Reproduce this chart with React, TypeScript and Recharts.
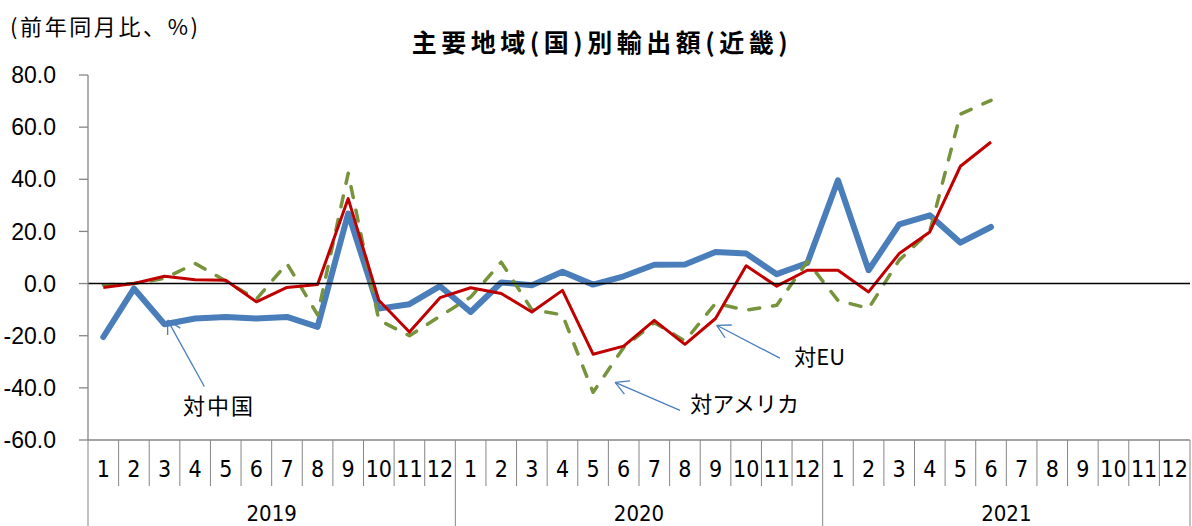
import React from 'react';
import { LineChart, Line, XAxis, YAxis, ReferenceLine, ReferenceDot } from 'recharts';

// ---------- data ----------
const YEARS = ['2019', '2020', '2021'];
const MONTHS = ['1', '2', '3', '4', '5', '6', '7', '8', '9', '10', '11', '12'];
const Y_TICKS = [-60, -40, -20, 0, 20, 40, 60, 80];

// 対中国
const CHINA = [
  -20.5, -1.9, -15.6, -13.4, -12.8, -13.4, -12.8, -16.6, 26.9, -9.6, -7.9, -1.0,
  -10.9, 0.4, -0.6, 4.5, -0.4, 2.8, 7.2, 7.3, 12.1, 11.5, 3.6, 7.9,
  39.6, 5.1, 22.7, 26.2, 15.7, 21.7,
];
// 対EU
const EU = [
  -1.5, 0.0, 2.8, 1.5, 1.3, -7.0, -1.5, -0.4, 32.6, -6.4, -18.6, -5.4,
  -1.6, -3.8, -10.9, -2.6, -27.1, -24.0, -14.1, -23.3, -13.4, 6.8, -1.0, 5.1,
  5.1, -3.2, 11.5, 19.8, 45.0, 54.3,
];
// 対アメリカ
const USA = [
  -0.5, 0.0, 2.0, 7.7, 1.0, -6.0, 7.7, -12.0, 42.3, -14.0, -20.0, -12.5,
  -5.2, 8.2, -10.0, -12.0, -41.7, -24.5, -15.0, -22.0, -7.6, -10.2, -8.3, 8.5,
  -6.5, -9.5, 9.0, 20.0, 65.0, 70.3,
];

// annotations: arrow head -> tail (in data coordinates), label position
const NOTES = [
  { text: '対中国', head: [2.1, -14.0], tail: [3.3, -39.5], label: [3.78, -47.0] },
  { text: '対アメリカ', head: [16.72, -37.9], tail: [18.84, -48.6], label: [20.95, -46.2] },
  { text: '対EU', head: [20.04, -16.0], tail: [22.1, -28.6], label: [23.4, -28.3] },
];

// ---------- layout ----------
const W = 1192;
const H = 526;
const ML = 88;
const MR = 2;
const MT = 75;
const XH = 86;
const N = YEARS.length * MONTHS.length;
const HALF = (W - ML - MR) / N / 2;

const CJK = "'Noto Sans CJK JP', 'Noto Sans CJK SC', sans-serif";
const NUM = "'Liberation Sans', Arial, sans-serif";
const NARROW = "'Liberation Sans Narrow', 'Arial Narrow', 'DejaVu Sans Condensed', sans-serif";
const AXIS = '#868686';

const data = Array.from({ length: N }, (_, i) => ({
  i,
  m: MONTHS[i % 12],
  china: i < CHINA.length ? CHINA[i] : null,
  eu: i < EU.length ? EU[i] : null,
  usa: i < USA.length ? USA[i] : null,
}));

const MonthTick = (props: any) => {
  const { x, y, payload } = props;
  const i = payload.value as number;
  const m = i % 12;
  const items: React.ReactNode[] = [];
  items.push(
    <line key="d" x1={x - HALF} x2={x - HALF} y1={y} y2={y + (m === 0 ? XH : 46)} stroke={AXIS} strokeWidth={1} />
  );
  if (i === N - 1) {
    items.push(<line key="r" x1={x + HALF} x2={x + HALF} y1={y} y2={y + XH} stroke={AXIS} strokeWidth={1} />);
  }
  items.push(
    <text key="t" x={x} y={y + 37} textAnchor="middle" fontFamily={NARROW} fontSize={23} fill="#000">
      {MONTHS[m]}
    </text>
  );
  if (m === 5) {
    items.push(
      <text key="y" x={x + HALF} y={y + 81} textAnchor="middle" fontFamily={NARROW} fontSize={22} fill="#000">
        {YEARS[Math.floor(i / 12)]}
      </text>
    );
  }
  return <g>{items}</g>;
};

const ArrowShape = (props: any) => {
  const { x1, y1, x2, y2 } = props;
  const ang = Math.atan2(y2 - y1, x2 - x1);
  const L = 15;
  const a = 0.5;
  return (
    <g stroke="#4a7ebb" strokeWidth={1.3} fill="none">
      <line x1={x1} y1={y1} x2={x2} y2={y2} />
      <line x1={x1} y1={y1} x2={x1 + L * Math.cos(ang + a)} y2={y1 + L * Math.sin(ang + a)} />
      <line x1={x1} y1={y1} x2={x1 + L * Math.cos(ang - a)} y2={y1 + L * Math.sin(ang - a)} />
    </g>
  );
};

export default function App() {
  return (
    <div style={{ position: 'absolute', left: 0, top: 0, width: W, height: H, background: '#fff' }}>
      <div
        style={{
          position: 'absolute', left: 10, top: 9, fontFamily: CJK, fontSize: 22, lineHeight: '32px',
          letterSpacing: 2.6, color: '#000', whiteSpace: 'nowrap',
        }}
      >
        (前年同月比、%)
      </div>
      <div
        style={{
          position: 'absolute', left: 0, width: W, top: 22, textAlign: 'center', fontFamily: CJK,
          fontSize: 25, fontWeight: 700, lineHeight: '38px', letterSpacing: 4.5, color: '#000', whiteSpace: 'nowrap',
          paddingLeft: 12, boxSizing: 'border-box',
        }}
      >
        主要地域(国)別輸出額(近畿)
      </div>
      <LineChart width={W} height={H} data={data} margin={{ top: MT, right: MR, bottom: 0, left: 0 }}>
        <XAxis
          dataKey="i"
          type="number"
          domain={[-0.5, N - 0.5]}
          ticks={data.map((d) => d.i)}
          interval={0}
          height={XH}
          tickLine={false}
          tickSize={0}
          tickMargin={0}
          axisLine={{ stroke: AXIS, strokeWidth: 1.3 }}
          tick={<MonthTick />}
        />
        <YAxis
          type="number"
          domain={[-60, 80]}
          ticks={Y_TICKS}
          width={ML}
          interval={0}
          tickSize={9}
          tickMargin={23}
          axisLine={{ stroke: AXIS, strokeWidth: 1.3 }}
          tickLine={{ stroke: AXIS, strokeWidth: 1.3 }}
          tickFormatter={(v: number) => v.toFixed(1)}
          tick={{ fontFamily: NUM, fontSize: 23, fill: '#000' }}
        />
        <Line
          dataKey="china"
          type="linear"
          stroke="#4a7ebb"
          strokeWidth={6}
          strokeLinejoin="round"
          strokeLinecap="round"
          dot={false}
          activeDot={false}
          isAnimationActive={false}
        />
        <Line
          dataKey="usa"
          type="linear"
          stroke="#77933c"
          strokeWidth={3.5}
          strokeDasharray="11 13"
          strokeLinecap="round"
          strokeLinejoin="round"
          dot={false}
          activeDot={false}
          isAnimationActive={false}
        />
        <Line
          dataKey="eu"
          type="linear"
          stroke="#c00000"
          strokeWidth={3}
          strokeLinejoin="round"
          dot={false}
          activeDot={false}
          isAnimationActive={false}
        />
        <ReferenceLine y={0} stroke="#000" strokeWidth={1.5} />
        {NOTES.map((n) => (
          <ReferenceLine
            key={n.text + 'a'}
            segment={[
              { x: n.head[0], y: n.head[1] },
              { x: n.tail[0], y: n.tail[1] },
            ]}
            shape={ArrowShape}
          />
        ))}
        {NOTES.map((n) => (
          <ReferenceDot
            key={n.text + 't'}
            x={n.label[0]}
            y={n.label[1]}
            r={0}
            shape={(p: any) => (
              <text
                x={p.cx}
                y={p.cy}
                dy="0.36em"
                textAnchor="middle"
                fontFamily={CJK}
                fontSize={22}
                letterSpacing={n.text === '対中国' ? 2 : 0}
                fill="#000"
              >
                {n.text}
              </text>
            )}
          />
        ))}
      </LineChart>
    </div>
  );
}
